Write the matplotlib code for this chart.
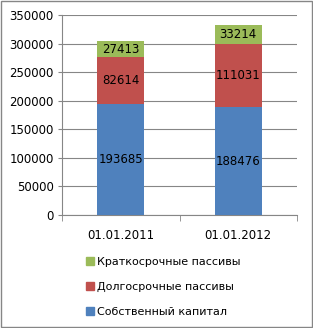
import numpy as np
import matplotlib
matplotlib.use("Agg")
import matplotlib.pyplot as plt
from matplotlib.patches import Patch

# Данные
dates = ["01.01.2011", "01.01.2012"]
own_capital = [193685, 188476]
long_term = [82614, 111031]
short_term = [27413, 33214]
series_names = ["Собственный капитал", "Долгосрочные пассивы", "Краткосрочные пассивы"]
colors = ["#4F81BD", "#C0504D", "#9BBB59"]

fig = plt.figure(figsize=(3.13, 3.28), dpi=100)
ax = fig.add_axes([62/313, 1-215/328, 235/313, 200/328])

x = np.arange(len(dates))
bottom = np.zeros(len(dates))
for vals, col in zip([own_capital, long_term, short_term], colors):
    ax.bar(x, vals, width=0.4, bottom=bottom, color=col, zorder=3)
    for xi, b, v in zip(x, bottom, vals):
        ax.text(xi, b + v/2, str(v), ha="center", va="center", fontsize=8.5, color="black", zorder=4)
    bottom += np.array(vals)

ax.set_xlim(-0.5, 1.5)
ax.set_ylim(0, 350000)
ax.set_yticks(np.arange(0, 350001, 50000))
ax.tick_params(axis="y", labelsize=8.5, length=3, color="#868686", pad=3)
ax.set_xticks(x)
ax.set_xticklabels(dates)
ax.tick_params(axis="x", labelsize=8.5, length=0, pad=10)
ax.set_xticks([-0.5, 0.5, 1.5], minor=True)
ax.tick_params(axis="x", which="minor", length=4, color="#868686")
ax.grid(axis="y", color="#868686", linewidth=0.8, zorder=0)
for s in ["top", "right"]:
    ax.spines[s].set_visible(False)
for s in ["left", "bottom"]:
    ax.spines[s].set_color("#868686")

handles = [Patch(color=c, label=n) for c, n in zip(colors, series_names)][::-1]
fig.legend(handles=handles, loc="upper left", bbox_to_anchor=(76/313, 1-247/328),
           frameon=False, fontsize=8, handlelength=0.7, handleheight=0.7,
           handletextpad=0.3, labelspacing=1.35)

border = plt.Rectangle((0.002, 0.002), 0.995, 0.995, transform=fig.transFigure,
                       fill=False, edgecolor="#868686", linewidth=1)
fig.patches.append(border)

fig.savefig("out.png", dpi=100)
